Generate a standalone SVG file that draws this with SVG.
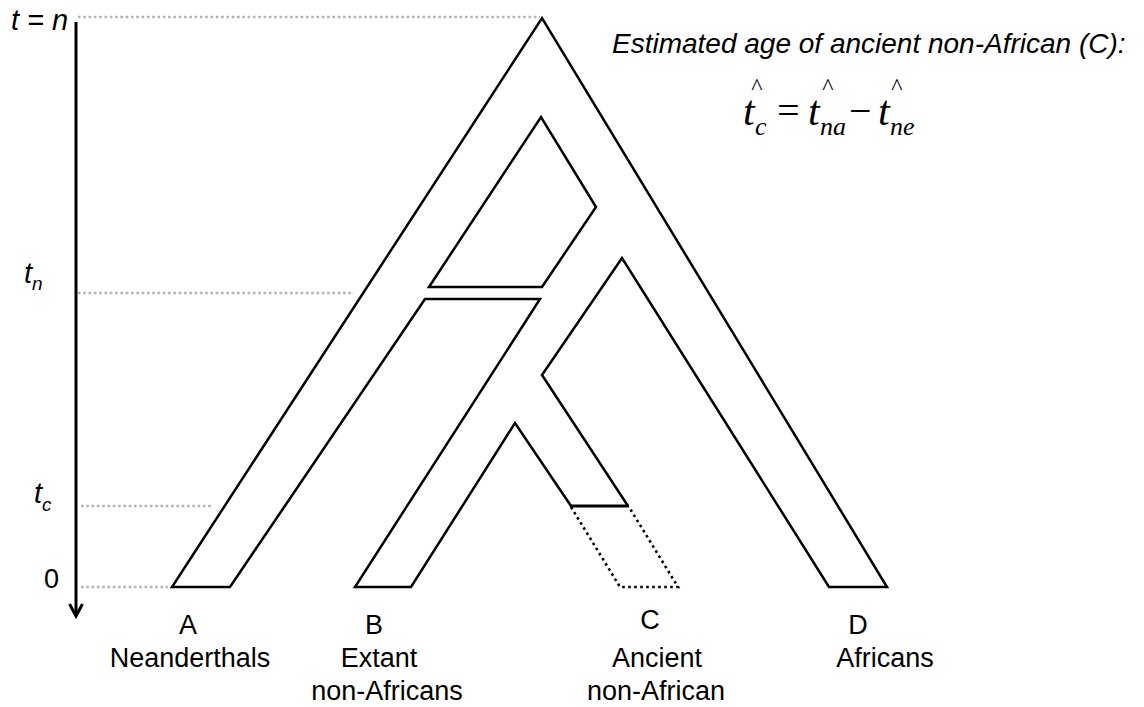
<svg xmlns="http://www.w3.org/2000/svg" width="1144" height="707" viewBox="0 0 1144 707">
<style>
.ln{fill:none;stroke:#000;stroke-width:2.5;stroke-linejoin:miter}
.gd{fill:none;stroke:#b3b3b3;stroke-width:2.6;stroke-dasharray:2.6 2.7}
.bd{fill:none;stroke:#000;stroke-width:2.6;stroke-dasharray:2.6 3.4}
.lab{font-family:"Liberation Sans",Arial,sans-serif;font-size:27px;fill:#000}
.it{font-family:"Liberation Sans",Arial,sans-serif;font-style:italic;fill:#000}
.tm{font-family:"Liberation Serif","Times New Roman",serif;font-style:italic;fill:#000}
.hat{font-family:"Liberation Serif","Times New Roman",serif;font-size:24px;fill:#000;text-anchor:middle}
</style>
<rect width="1144" height="707" fill="#fff"/>
<g id="axis">
<line x1="76" y1="22" x2="76" y2="615" stroke="#000" stroke-width="3"/>
<polyline points="69.5,604 76,616 82.5,604" fill="none" stroke="#000" stroke-width="3"/>
<text class="it" x="11" y="30" font-size="29">t = n</text>
<text class="it" x="24" y="283" font-size="29">t<tspan font-size="19" dy="7">n</tspan></text>
<text class="it" x="34" y="503" font-size="29">t<tspan font-size="19" dy="8">c</tspan></text>
<text class="lab" x="44" y="588">0</text>
</g>
<g id="guides">
<line class="gd" x1="78" y1="17" x2="540" y2="17"/>
<line class="gd" x1="78" y1="293" x2="354" y2="293"/>
<line class="gd" x1="81" y1="506" x2="212" y2="506"/>
<line class="gd" x1="81" y1="587" x2="168" y2="587"/>
</g>
<g id="connectors">
<path class="ln" d="M628,506 L542,375 L622,258 L829,587 L887,587 L542,18 L172,587 L230,587 L425,299 L540,299 L355,587 L411,587 L515,423 L571,506"/>
<path class="ln" d="M429,287 L541,117 L596,207 L542,287 Z"/>
<line x1="570" y1="506" x2="629" y2="506" stroke="#000" stroke-width="3.2"/>
<path class="bd" d="M571,507 L620,587 L678,587 L629,507"/>
</g>
<g id="nodeA">
<text class="lab" x="188" y="634" text-anchor="middle">A</text>
<text class="lab" x="190" y="667" text-anchor="middle">Neanderthals</text>
</g>
<g id="nodeB">
<text class="lab" x="374" y="634" text-anchor="middle">B</text>
<text class="lab" x="379" y="667" text-anchor="middle">Extant</text>
<text class="lab" x="387" y="700" text-anchor="middle">non-Africans</text>
</g>
<g id="nodeC">
<text class="lab" x="650" y="629" text-anchor="middle">C</text>
<text class="lab" x="657" y="667" text-anchor="middle">Ancient</text>
<text class="lab" x="656" y="700" text-anchor="middle">non-African</text>
</g>
<g id="nodeD">
<text class="lab" x="858" y="634" text-anchor="middle">D</text>
<text class="lab" x="885" y="667" text-anchor="middle">Africans</text>
</g>
<g id="formula">
<text class="it" x="612" y="53" font-size="28">Estimated age of ancient non-African (C):</text>
<text class="tm" x="743" y="125" font-size="42">t</text>
<text class="hat" x="757" y="94">^</text>
<text class="tm" x="755" y="135" font-size="26">c</text>
<text class="tm" x="788" y="124" font-size="40" font-style="normal" text-anchor="middle">=</text>
<text class="tm" x="808" y="125" font-size="42">t</text>
<text class="hat" x="828" y="94">^</text>
<text class="tm" x="820" y="135" font-size="26">na</text>
<text class="tm" x="860" y="124" font-size="40" font-style="normal" text-anchor="middle">−</text>
<text class="tm" x="878" y="125" font-size="42">t</text>
<text class="hat" x="897" y="94">^</text>
<text class="tm" x="890" y="135" font-size="26">ne</text>
</g>
</svg>
